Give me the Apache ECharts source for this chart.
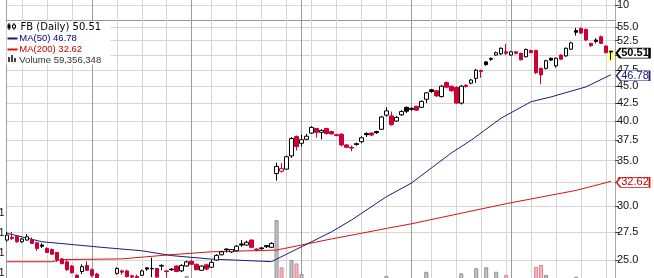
<!DOCTYPE html>
<html><head><meta charset="utf-8">
<script src="https://cdn.jsdelivr.net/npm/echarts@6/dist/echarts.min.js"></script>
<style>html,body{margin:0;padding:0;background:#fff}#c{width:654px;height:278px}</style>
</head><body><div id="c"></div>
<script>
// daily candles [open, close, low, high], 8 May 2013 .. 29 Oct 2013
const candles = [
[26.75,27.2,26.6,27.5],[27.0,26.9,26.75,27.5],[27.1,26.6,26.5,27.2],[26.6,26.85,26.5,26.95],[26.75,27.05,26.7,27.3],
[26.8,26.45,26.4,27.0],[26.5,26.0,25.8,26.6],[26.3,26.2,26.05,26.45],[26.0,25.65,25.6,26.1],[25.9,25.5,25.45,26.0],
[25.65,25.05,24.85,25.7],[25.1,24.7,24.65,25.15],[24.85,24.2,24.1,25.0],[24.5,23.95,23.9,24.6],[23.75,23.4,23.3,23.85],
[24.05,24.45,23.85,24.65],[24.55,24.15,24.1,24.9],[24.2,23.75,23.6,24.3],[23.85,23.4,23.3,23.95],[23.3,23.0,22.8,23.45],
[23.0,22.9,22.7,23.3],[23.0,23.3,22.8,23.45],[23.9,24.3,23.8,24.4],[24.1,24.0,23.8,24.2],[24.1,23.65,23.55,24.2],
[23.7,23.6,23.5,23.8],[23.65,23.55,23.45,23.8],[23.75,24.1,23.7,24.2],[24.35,24.25,24.1,24.4],[24.3,24.27,23.6,25.2],
[24.3,23.6,23.55,24.35],[24.55,24.5,24.15,24.65],[24.1,24.05,23.55,24.15],[24.25,24.2,24.1,24.3],[24.5,24.05,24.0,24.55],
[24.1,24.55,24.0,24.65],[24.5,24.85,24.45,24.95],[24.9,24.65,24.6,25.0],[24.65,24.2,24.15,24.7],[24.15,24.5,24.1,24.55],
[24.6,24.25,24.15,24.7],[24.4,24.8,24.35,25.0],[25.0,25.4,24.95,25.5],[25.45,25.7,25.4,25.8],[25.95,25.88,25.65,26.0],
[25.7,25.9,25.6,25.95],[25.8,26.2,25.75,26.3],[26.4,26.3,26.15,26.75],[26.3,26.55,26.25,26.7],[26.75,26.1,26.05,26.8],
[25.95,25.9,25.75,26.0],[26.05,25.98,25.9,26.1],[26.25,26.15,26.05,26.3],[26.1,26.45,26.05,26.55],[33.5,34.3,32.7,34.75],
[33.75,34.05,33.6,34.7],[34.0,35.45,33.9,35.6],[35.55,37.7,35.3,37.9],[37.95,36.7,36.2,38.1],[37.1,37.55,36.7,38.2],
[37.6,38.0,37.5,38.3],[38.4,39.15,38.3,39.3],[39.0,38.5,37.8,39.1],[38.5,38.75,37.6,38.9],[39.0,38.35,38.2,39.1],
[38.6,38.3,38.2,38.7],[38.2,38.1,38.0,38.3],[38.25,36.9,36.7,38.4],[36.9,36.6,36.5,37.0],[36.6,36.5,36.1,36.8],
[37.05,36.95,36.8,37.2],[37.3,37.8,37.1,38.0],[38.35,38.2,37.9,38.5],[38.4,38.15,38.0,38.5],[38.6,38.45,38.3,38.7],
[38.9,40.55,38.8,40.7],[40.8,41.4,40.6,41.9],[40.7,39.5,39.4,41.3],[40.0,40.5,39.9,40.7],[40.85,41.3,40.7,41.5],
[41.9,41.35,41.1,42.0],[41.75,41.6,41.4,41.9],[42.05,41.5,41.4,42.1],[41.9,42.75,41.8,42.9],[43.05,44.0,42.5,44.1],
[44.45,44.2,44.0,44.6],[44.3,43.55,43.4,44.4],[43.45,45.0,43.3,45.2],[45.55,44.85,44.7,45.7],[45.0,44.3,44.2,45.1],
[44.8,42.5,42.4,45.0],[42.5,45.0,42.3,45.2],[45.15,44.95,44.8,45.3],[45.45,45.95,45.3,46.1],[46.2,47.5,45.5,47.7],
[47.45,47.3,46.3,47.6],[48.85,48.4,48.2,49.0],[49.45,49.3,49.0,49.55],[50.0,50.4,49.9,50.6],[50.2,51.15,50.0,51.3],
[50.55,50.3,50.0,51.9],[50.0,50.55,49.9,50.7],[50.55,50.3,50.1,50.6],[50.3,49.2,49.1,50.4],[49.7,50.95,49.6,51.1],
[50.75,50.4,50.3,50.9],[50.75,47.1,46.9,50.9],[47.8,46.75,45.3,47.9],[47.8,49.05,47.6,49.2],[49.45,49.15,49.0,49.6],
[48.2,49.45,47.9,49.6],[50.0,49.3,49.2,50.1],[49.85,51.15,49.7,51.3],[51.0,52.1,50.9,52.3],[54.3,54.0,53.4,54.8],
[54.7,53.85,53.7,54.9],[54.5,52.6,52.4,54.7],[52.0,51.6,51.4,52.1],[52.6,52.35,52.0,52.9],[53.2,52.0,51.9,53.4],
[51.55,50.4,50.3,51.6],[50.65,50.51,49.2,50.7]
];
// daily volume, millions of shares
const volumes = [
48,36,40,30,33,42,45,35,41,38, 52,50,55,58,60,47,45,52,55,60,
62,48,40,35,42,36,38,45,40,70, 62,45,40,33,38,42,110,35,30,20,
38,45,40,48,38,32,40,55,42,50, 48,35,40,60,
365,149,97,183,167,119,82,90,75,68,
72,60,55,95,70,65,58,62,70,50,
48,98,110,92,75,70,68,66,60,85,
129,80,78,92,75,70,95,122,72,80,
145,95,149,92,129,98,114,96,80,85,
90,75,152,160,114,70,75,72,85,92,
106,90,88,70,65,62,78,59.356348
];
// moving averages read at [day index, value]
const ma50 = [[0,27.37],[7,26.6],[19,26.1],[27,25.8],[33,25.38],[41,25.08],[53,24.87],[65,27.5],[69,28.62],[76,30.97],[81,32.43],[89,35.9],[93,37.5],[99,40.4],[105,42.7],[109,43.4],[116,44.9],[121,46.78]];
const ma200 = [[0,24.86],[9,24.86],[11,25.04],[23,25.1],[32,25.43],[41,25.71],[54,25.86],[65,26.85],[71,27.37],[76,27.82],[81,28.26],[100,30.25],[114,31.64],[121,32.62]];
const priceTicks = [25,27.5,30,32.5,35,37.5,40,42.5,45,47.5,50,52.5,55];
const upperTicks = [10];
const weekLines = [3,8,13,22,27,32,41,46,51,56,61,66,71,76,85,90,95,100,105,110,115,120];
const monthLines = [17,37,59,81,101];
const leftLabelY = [213,233,253,273];

const RED = '#cc0033', NAVY = '#1c1c78', MARED = '#dd1111';
const FONT = '"Liberation Sans", Arial, sans-serif';
const N = candles.length;

// split candles by line colour: closes at/above previous close are black, below are red
const upDays = [], downDays = [];
candles.forEach((d, i) => {
  const prev = i > 0 ? candles[i - 1][1] : d[0];
  (d[1] >= prev ? upDays : downDays).push([i, d[0], d[1], d[2], d[3]]);
});
const volData = volumes.map((v, i) => {
  const up = i === 0 || candles[i][1] >= candles[i - 1][1];
  return { value: [i, v], itemStyle: up ? { color: '#c4c4c4', borderColor: '#8e8e8e', borderWidth: 1 } : { color: '#f3b7c1', borderColor: '#e0808f', borderWidth: 1 } };
});
const last = candles[N - 1];
const vLines = weekLines.map(i => ({ xAxis: i, lineStyle: { color: '#d6d6d6' } }))
  .concat(monthLines.map(i => ({ xAxis: i, lineStyle: { color: '#9c9c9c' } })));

function tag(value, color, textColor, bold) {
  return {
    value: value,
    symbol: 'path://M0,5L4,0L33,0L33,10L4,10Z', symbolSize: [33, 10], symbolKeepAspect: false,
    symbolOffset: [22, 1],
    itemStyle: { color: '#fff', borderColor: color, borderWidth: bold ? 1.4 : 1 },
    label: { show: true, position: 'inside', offset: [2, 0], formatter: value.toFixed(2), color: textColor, fontFamily: FONT, fontSize: 11, fontWeight: bold ? 'bold' : 'normal' }
  };
}
const ma50Last = ma50[ma50.length - 1], ma200Last = ma200[ma200.length - 1];
const closeTag = Object.assign(tag(last[1], '#000', '#000', true), { coord: [N - 1, last[1]] });
const ma50Tag = Object.assign(tag(ma50Last[1], NAVY, NAVY, false), { coord: ma50Last });
const ma200Tag = Object.assign(tag(ma200Last[1], MARED, '#c00000', false), { coord: ma200Last });

const xBase = { type: 'value', min: -0.2, max: 121.8, show: false };
const axisLbl = { fontFamily: FONT, fontSize: 11, color: '#111', margin: 2 };
const G = { left: 6, right: 39, outerBoundsMode: 'none', containLabel: false };

function candleSeries(data, col, extra) {
  return Object.assign({ type: 'candlestick', xAxisIndex: 0, yAxisIndex: 0, data: data, barWidth: 4, z: 4,
    itemStyle: { color: '#fff', color0: col, borderColor: col, borderColor0: col, borderColorDoji: col, borderWidth: 1 } }, extra || {});
}

const chart = echarts.init(document.getElementById('c'), null, { renderer: 'canvas' });
chart.setOption({
  animation: false,
  backgroundColor: '#fff',
  grid: [
    Object.assign({ top: 0, height: 278 }, G),
    Object.assign({ top: 0, height: 300 }, G),
    Object.assign({ top: -2.9, height: 23.6 }, G)
  ],
  xAxis: [
    Object.assign({ gridIndex: 0 }, xBase),
    Object.assign({ gridIndex: 1 }, xBase),
    { gridIndex: 2, type: 'value', min: -0.2, max: 121.8, axisLine: { show: true, onZero: false, lineStyle: { color: '#969696' } }, axisTick: { show: false }, axisLabel: { show: false }, splitLine: { show: false } }
  ],
  yAxis: [
    { gridIndex: 0, type: 'log', logBase: 10, min: 23.53, max: 60.22, position: 'right',
      axisLine: { show: true, onZero: false, lineStyle: { color: '#a8a8a8' } },
      axisTick: { show: true, length: 4, customValues: priceTicks, lineStyle: { color: '#444' } },
      axisLabel: Object.assign({ customValues: priceTicks, formatter: v => Number(v).toFixed(1) }, axisLbl),
      splitLine: { show: true, lineStyle: { color: '#d6d6d6' } } },
    { gridIndex: 1, type: 'value', min: 0, max: 1370, position: 'left',
      axisLine: { show: true, onZero: false, lineStyle: { color: '#a0a0a0' } },
      axisTick: { show: false }, axisLabel: { show: false }, splitLine: { show: false } },
    { gridIndex: 2, type: 'value', min: 0, max: 15, interval: 5, position: 'right',
      axisLine: { show: false, onZero: false },
      axisTick: { show: true, length: 4, customValues: upperTicks, lineStyle: { color: '#444' } },
      axisLabel: Object.assign({ formatter: v => (upperTicks.indexOf(v) >= 0 ? String(v) : '') }, axisLbl),
      splitLine: { show: true, lineStyle: { color: '#d6d6d6' } } }
  ],
  series: [
    { type: 'bar', xAxisIndex: 1, yAxisIndex: 1, data: volData, barWidth: 4, z: 2,
      markLine: { silent: true, z: 1, symbol: ['none', 'none'], label: { show: false }, lineStyle: { type: 'solid', width: 1 }, data: vLines } },
    { type: 'line', xAxisIndex: 0, yAxisIndex: 0, data: ma200, showSymbol: false, symbol: 'none', z: 3,
      lineStyle: { color: MARED, width: 1 }, markPoint: { z: 6, data: [ma200Tag] } },
    { type: 'line', xAxisIndex: 0, yAxisIndex: 0, data: ma50, showSymbol: false, symbol: 'none', z: 3,
      lineStyle: { color: NAVY, width: 1 }, markPoint: { z: 6, data: [ma50Tag] } },
    candleSeries(downDays, RED),
    candleSeries(upDays, '#000', {
      markArea: { silent: true, z: 1, itemStyle: { color: '#ffff88' },
        data: [[{ coord: [N - 1 - 0.7, last[2] * 0.997] }, { coord: [N - 1 + 0.7, last[3] * 1.003] }]] },
      markPoint: { z: 6, data: [closeTag] } })
  ],
  graphic: [
    { type: 'rect', z: 100, shape: { x: 6.5, y: 21.5, width: 104, height: 43 }, style: { fill: '#fff' } },
    { type: 'line', z: 101, shape: { x1: 9, y1: 23, x2: 9, y2: 30 }, style: { stroke: '#000', lineWidth: 1 } },
    { type: 'rect', z: 102, shape: { x: 7.5, y: 24.5, width: 3, height: 4 }, style: { fill: '#000' } },
    { type: 'line', z: 101, shape: { x1: 14, y1: 23, x2: 14, y2: 30 }, style: { stroke: '#000', lineWidth: 1 } },
    { type: 'rect', z: 102, shape: { x: 12.5, y: 25, width: 3, height: 3 }, style: { fill: '#fff', stroke: '#000', lineWidth: 1 } },
    { type: 'text', z: 101, x: 20.5, y: 27, style: { text: 'FB (Daily) ' + last[1].toFixed(2), fill: '#000', font: '10px "DejaVu Sans"', verticalAlign: 'middle' } },
    { type: 'rect', z: 101, shape: { x: 7.5, y: 37.5, width: 10, height: 2 }, style: { fill: NAVY } },
    { type: 'text', z: 101, x: 19.3, y: 38.7, style: { text: 'MA(50) ' + ma50Last[1].toFixed(2), fill: '#000080', font: '9.5px ' + FONT, verticalAlign: 'middle' } },
    { type: 'rect', z: 101, shape: { x: 7.5, y: 48.5, width: 10, height: 2 }, style: { fill: '#dd1111' } },
    { type: 'text', z: 101, x: 19.3, y: 49.5, style: { text: 'MA(200) ' + ma200Last[1].toFixed(2), fill: '#cc0000', font: '9.5px ' + FONT, verticalAlign: 'middle' } },
    { type: 'rect', z: 101, shape: { x: 8, y: 57, width: 2, height: 5 }, style: { fill: '#444' } },
    { type: 'rect', z: 101, shape: { x: 11, y: 55, width: 2, height: 7 }, style: { fill: '#444' } },
    { type: 'rect', z: 101, shape: { x: 14, y: 58, width: 2, height: 4 }, style: { fill: '#444' } },
    { type: 'text', z: 101, x: 19.3, y: 60, style: { text: 'Volume ' + Math.round(volumes[N - 1] * 1e6).toLocaleString('en-US'), fill: '#333', font: '9.5px ' + FONT, verticalAlign: 'middle' } }
  ].concat(leftLabelY.map(y => ({ type: 'text', z: 101, x: 4.5, y: y, style: { text: '1', fill: '#111', font: '11px ' + FONT, align: 'right', verticalAlign: 'middle' } })))
});
</script></body></html>
